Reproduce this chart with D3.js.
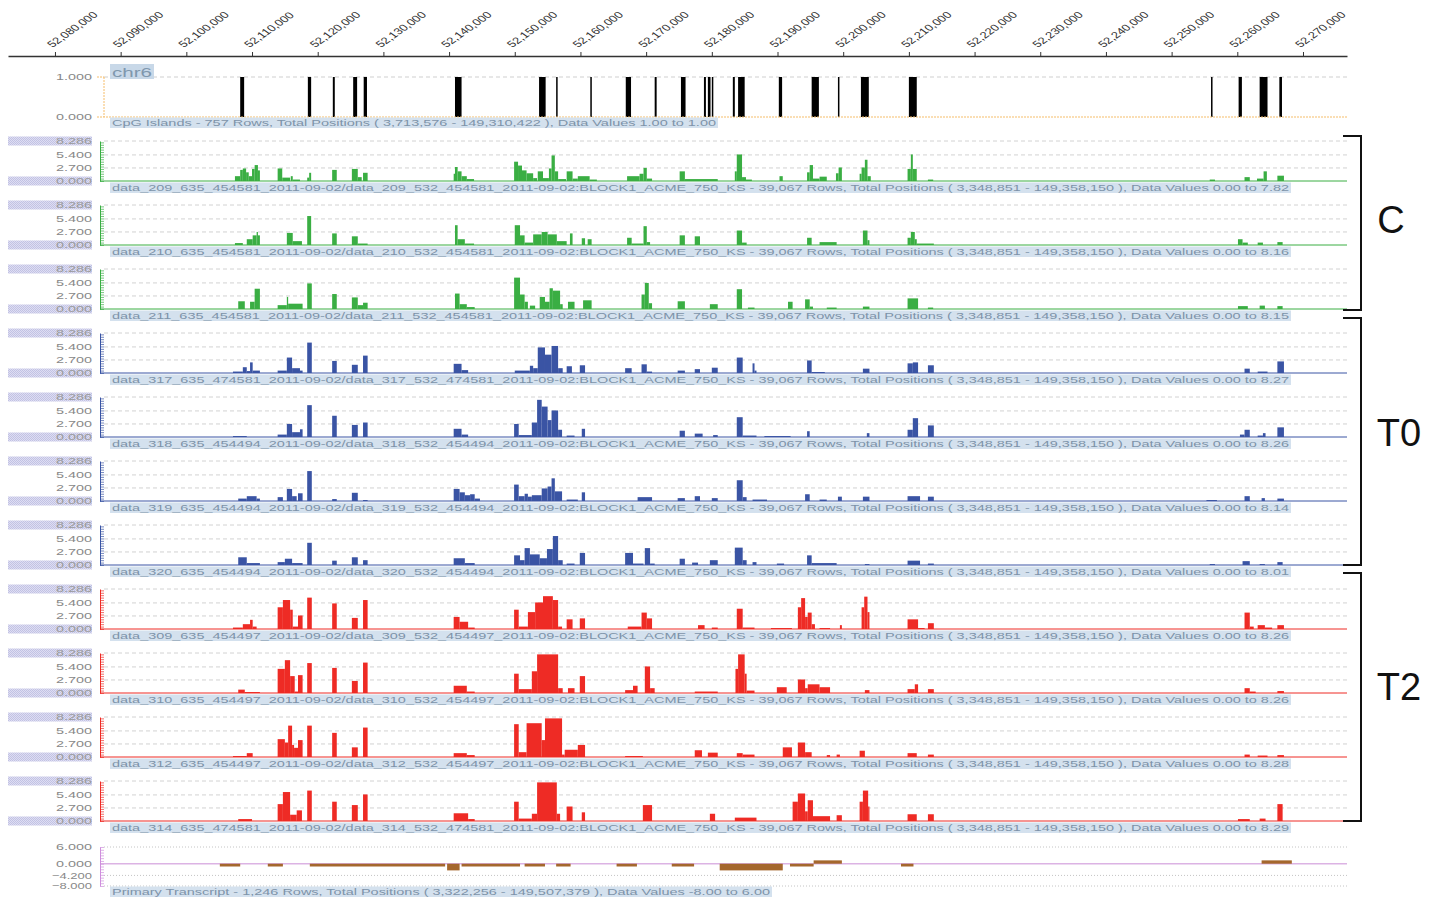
<!DOCTYPE html>
<html>
<head>
<meta charset="utf-8">
<script src="https://cdn.jsdelivr.net/npm/d3@7"></script>
<style>
  body { margin: 0; background: #fff; }
  text { font-family: "Liberation Sans", Arial, sans-serif; }
</style>
</head>
<body>
<div id="chart"></div>
<script>
// positions below are kb past 52,000,000 on chr6
var chromStart = 52000000;

var axisTicks = [52080000, 52090000, 52100000, 52110000, 52120000, 52130000, 52140000,
  52150000, 52160000, 52170000, 52180000, 52190000, 52200000, 52210000, 52220000,
  52230000, 52240000, 52250000, 52260000, 52270000];

var signalTicks = [0, 2.7, 5.4, 8.286];
var transcriptTicks = [6, 0, -4.2, -8];

// CpG islands [start, end]
var cpgIslands = [[108.2,108.8],[118.5,119.0],[122.3,122.6],[125.4,126.0],[127.0,127.5],
  [140.9,141.9],[153.7,154.7],[156.3,156.5],[161.5,161.7],[166.9,167.7],[171.3,171.6],
  [175.3,176.0],[178.8,179.1],[179.4,179.8],[180.0,180.2],[183.2,183.5],[184.0,185.0],
  [190.2,190.7],[195.2,196.3],[199.2,199.4],[202.7,203.9],[210.0,211.2],
  [256.0,256.2],[260.2,260.7],[263.4,264.6],[266.4,266.8]];

// signal bars [start, end, value]
var c209 = [[107.4,108.2,1.0],[108.2,108.6,2.3],[108.6,109.1,2.6],[109.1,109.5,1.8],[109.5,110.0,1.0],
  [110.0,110.4,2.5],[110.4,110.9,3.3],[110.9,111.2,2.2],[113.9,114.6,2.6],[114.6,115.8,0.7],
  [115.9,116.2,1.0],[116.2,117.3,0.3],[118.4,118.7,0.7],[118.7,119.0,1.7],[122.2,122.9,2.3],
  [125.2,126.1,2.5],[126.1,126.7,0.8],[126.9,127.6,1.7],[140.7,140.9,1.5],[140.9,141.3,2.9],
  [141.3,141.9,2.0],[141.9,142.7,1.0],[142.7,143.8,0.4],[149.9,150.5,4.0],[150.5,151.1,3.2],
  [151.1,151.8,2.2],[151.8,152.8,1.6],[152.8,153.4,0.6],[153.5,154.3,2.0],[154.3,155.2,0.6],
  [155.2,155.6,2.6],[155.6,156.1,5.3],[156.1,156.6,2.0],[156.6,157.8,0.4],[157.9,158.8,2.0],
  [158.8,159.6,0.5],[159.6,161.4,1.0],[161.4,162.5,0.3],[167.1,169.0,1.0],[169.0,169.6,1.5],
  [169.6,170.1,2.7],[170.1,170.9,0.5],[175.1,175.9,2.0],[175.9,180.9,0.4],[183.5,183.8,2.0],
  [183.8,184.6,5.5],[184.6,185.2,0.8],[185.2,186.1,0.3],[190.3,190.8,1.0],[194.5,194.9,1.8],
  [194.9,195.4,3.3],[195.4,196.4,0.5],[196.4,197.5,0.9],[198.9,199.3,1.6],[199.3,199.8,2.8],
  [202.5,202.8,1.5],[202.8,203.3,2.8],[203.3,203.7,4.4],[203.7,204.2,1.0],[209.8,210.3,2.5],
  [210.3,210.6,5.5],[210.6,211.2,2.5],[212.9,213.7,0.3],[255.8,256.6,0.3],[261.1,261.9,0.8],
  [263.0,264.0,0.5],[264.0,264.5,2.0],[266.1,267.1,1.1]];

var c210 = [[107.4,108.6,0.4],[109.2,110.1,1.2],[110.1,110.7,2.0],[110.7,110.9,2.7],[110.9,111.2,2.0],
  [115.3,116.2,2.5],[116.2,117.6,0.8],[118.4,119.0,6.0],[122.2,122.9,2.4],[125.2,126.1,1.8],
  [126.1,127.6,0.3],[140.9,141.3,4.1],[141.3,142.4,1.2],[142.4,143.8,0.3],[150.0,150.8,4.1],
  [150.8,151.5,2.0],[151.5,152.8,0.5],[152.8,154.1,2.2],[154.1,155.0,2.7],[155.0,156.4,2.2],
  [156.4,157.9,0.8],[158.4,158.8,2.4],[160.2,160.7,1.4],[161.1,161.7,1.2],[167.1,167.8,1.5],
  [167.8,169.6,0.3],[169.6,170.1,3.9],[170.1,170.6,0.6],[175.1,175.9,2.0],[177.4,178.2,1.8],
  [183.8,184.6,3.0],[184.6,185.3,0.5],[194.5,195.2,1.5],[196.4,199.0,0.6],[203.0,203.7,3.0],
  [203.7,204.0,1.0],[209.8,210.3,1.5],[210.3,210.9,2.7],[210.9,211.2,1.2],[211.2,213.8,0.3],
  [260.1,260.8,1.2],[260.8,261.6,0.5],[263.1,263.9,0.5],[266.1,266.9,0.6]];

var c211 = [[107.9,108.9,1.6],[109.7,110.4,1.5],[110.4,111.2,4.2],[113.9,115.3,0.8],[115.3,115.5,2.5],
  [115.5,117.7,1.1],[118.4,119.1,5.3],[122.2,122.9,3.1],[125.2,126.1,2.4],[126.1,126.9,0.8],
  [126.9,127.6,1.3],[140.9,141.6,3.2],[141.6,142.7,1.0],[142.7,143.9,0.4],[149.9,150.8,6.5],
  [150.8,151.5,3.0],[151.5,152.0,1.5],[152.3,153.1,0.7],[153.8,154.6,2.5],[154.6,155.3,1.5],
  [155.3,155.8,4.3],[155.8,156.9,3.8],[156.9,157.3,1.0],[158.1,159.1,1.5],[160.4,161.7,1.8],
  [169.3,169.8,3.0],[169.8,170.4,5.4],[170.4,170.9,1.2],[174.8,175.9,1.6],[179.7,180.9,1.0],
  [183.8,184.6,4.1],[185.5,186.5,0.3],[191.6,192.3,1.5],[194.2,194.9,2.0],[194.9,195.4,0.5],
  [197.5,199.0,0.3],[203.0,204.0,0.5],[209.8,211.4,2.2],[212.9,213.7,0.3],[260.1,261.6,0.6],
  [263.4,264.2,0.7],[266.1,266.9,0.6]];

var t317 = [[107.1,108.6,0.3],[108.6,109.2,1.2],[109.2,109.7,0.4],[109.7,110.1,2.2],[110.1,111.2,0.5],
  [113.9,115.3,0.5],[115.3,116.1,3.2],[116.1,117.3,1.0],[117.3,117.7,0.5],[118.4,119.1,6.3],
  [122.2,122.9,2.5],[125.2,126.1,1.7],[126.9,127.6,3.6],[140.7,141.9,1.9],[141.9,142.9,0.6],
  [150.0,152.3,0.5],[152.3,152.8,1.5],[152.8,153.5,1.0],[153.5,154.6,5.3],[154.6,155.6,3.8],
  [155.6,156.6,5.6],[156.6,157.3,1.0],[157.9,158.7,1.4],[159.9,160.7,1.6],[166.8,167.8,1.0],
  [169.3,170.1,1.8],[170.1,170.9,0.3],[174.8,175.9,0.5],[177.4,178.2,0.8],[180.0,180.9,1.1],
  [183.8,184.7,3.2],[186.2,186.5,2.0],[186.5,186.8,0.5],[194.5,195.2,2.6],[195.2,197.2,0.2],
  [203.0,204.0,0.9],[209.8,210.6,2.0],[210.6,211.4,2.2],[212.9,213.8,1.6],[261.1,261.9,0.9],
  [263.1,264.6,0.3],[266.1,267.1,2.4]];

var t318 = [[107.1,109.2,0.2],[113.9,115.3,0.5],[115.3,116.1,2.7],[116.1,117.3,1.0],[117.3,117.7,1.6],
  [118.4,119.1,6.6],[122.2,122.9,4.4],[125.2,126.1,2.5],[126.9,127.6,3.0],[140.7,141.9,1.7],
  [141.9,142.9,0.5],[149.9,150.6,2.7],[150.6,152.6,0.4],[152.6,153.4,3.0],[153.4,154.1,7.7],
  [154.1,155.0,6.3],[155.0,155.6,3.5],[155.6,156.6,5.5],[156.6,157.2,1.5],[157.9,159.1,0.3],
  [160.2,160.7,1.7],[175.1,175.9,1.3],[177.4,178.6,0.7],[180.2,180.9,0.4],[183.8,184.7,4.1],
  [184.7,186.8,0.3],[188.0,192.0,0.2],[194.5,194.9,1.2],[203.6,204.0,0.8],[209.8,210.6,1.5],
  [210.6,211.4,3.9],[212.9,213.8,2.4],[260.4,261.1,0.5],[261.1,261.9,1.5],[263.1,263.9,0.3],
  [263.9,264.3,0.8],[266.1,267.1,2.0]];

var t319 = [[107.9,109.2,0.5],[109.2,110.7,1.0],[110.7,111.2,0.5],[113.9,114.7,0.8],[115.3,116.1,2.5],
  [116.1,116.8,1.0],[117.0,117.7,1.6],[118.4,119.1,6.2],[122.2,122.9,0.4],[125.2,126.1,1.7],
  [126.9,127.6,0.2],[140.7,141.6,2.5],[141.6,142.4,1.8],[142.4,143.2,1.2],[143.2,143.9,1.4],
  [143.9,144.7,0.5],[149.9,150.6,3.4],[150.6,151.5,1.0],[151.5,152.0,1.5],[152.0,152.6,0.9],
  [152.6,154.1,1.2],[154.1,155.0,2.6],[155.0,155.6,3.0],[155.6,156.1,4.7],[156.1,157.2,2.0],
  [157.9,159.6,0.3],[160.2,160.7,1.8],[168.7,170.9,0.8],[174.8,175.9,0.6],[177.4,178.2,1.0],
  [180.0,180.9,0.6],[183.8,184.7,4.3],[184.7,185.3,0.8],[186.2,188.4,0.3],[194.2,194.9,1.4],
  [196.4,197.5,0.3],[199.2,199.8,0.9],[203.0,204.0,0.9],[209.8,211.7,1.0],[212.9,213.8,0.9],
  [255.3,256.9,0.2],[261.1,261.9,1.0],[263.7,264.2,0.6],[266.1,267.1,0.5]];

var t320 = [[107.9,109.2,1.6],[109.2,111.2,0.4],[113.9,115.0,0.6],[115.0,116.1,1.3],[116.1,117.7,0.4],
  [118.4,119.1,4.6],[122.2,122.9,0.9],[125.2,126.1,1.6],[126.9,127.6,1.0],[140.7,142.4,1.4],
  [142.4,143.9,0.4],[149.9,150.8,2.0],[150.8,151.5,1.0],[151.5,152.3,3.5],[152.3,153.8,2.2],
  [153.8,154.9,1.4],[154.9,155.8,3.3],[155.8,156.6,6.0],[156.6,157.3,1.0],[157.9,159.1,0.3],
  [159.9,160.7,2.5],[166.8,168.0,2.5],[168.0,169.6,0.3],[169.8,170.6,3.5],[170.6,171.3,0.3],
  [175.1,175.9,1.3],[177.0,177.9,0.5],[179.7,180.9,1.0],[183.5,184.7,3.6],[184.7,185.3,1.0],
  [186.2,186.8,0.6],[189.9,191.0,0.3],[194.5,195.2,2.0],[195.2,199.0,0.4],[203.3,204.0,0.2],
  [209.8,211.7,0.9],[212.9,213.8,0.3],[255.8,256.6,0.2],[260.8,261.9,0.8],[263.4,264.2,0.2],
  [266.1,266.9,0.6]];

var t309 = [[107.1,108.6,0.3],[108.6,109.7,1.0],[109.7,110.1,1.9],[110.1,110.7,0.5],[113.9,114.7,4.5],
  [114.7,115.8,6.0],[115.8,116.2,4.0],[116.2,117.0,0.5],[117.0,117.7,2.8],[118.4,119.1,6.5],
  [122.2,122.9,5.3],[125.2,126.1,2.3],[126.9,127.6,6.0],[140.7,141.6,2.5],[141.6,142.9,1.5],
  [142.9,143.9,0.3],[149.9,150.6,4.0],[150.6,152.0,0.5],[152.0,153.1,3.5],[153.1,154.3,5.5],
  [154.3,155.8,6.8],[155.8,156.6,6.0],[156.6,157.2,0.5],[157.9,158.8,2.0],[159.9,160.7,2.2],
  [167.2,169.3,0.5],[169.3,170.1,3.4],[170.1,170.9,2.2],[177.9,178.9,0.8],[180.0,180.9,0.3],
  [183.8,184.7,4.2],[184.7,186.5,0.3],[189.0,192.2,0.2],[193.1,193.6,4.5],[193.6,194.2,6.4],
  [194.2,194.6,2.5],[194.6,195.2,3.4],[195.2,195.7,1.0],[196.4,198.0,0.2],[199.5,199.8,0.8],
  [202.8,203.2,4.5],[203.2,203.7,6.7],[203.7,204.0,3.5],[209.8,211.4,2.0],[211.4,212.4,0.2],
  [212.9,213.8,1.2],[261.1,261.9,3.4],[261.9,262.5,0.5],[263.1,264.2,0.8],[264.2,265.3,0.3],
  [266.1,267.1,0.8]];

var t310 = [[107.9,108.9,0.7],[108.9,111.2,0.2],[113.9,115.0,5.0],[115.0,115.8,6.8],[115.8,116.5,3.5],
  [116.5,117.0,0.3],[117.0,117.7,3.7],[118.4,119.1,6.2],[122.2,122.9,5.2],[125.2,126.1,2.5],
  [126.9,127.6,6.3],[140.7,142.7,1.5],[142.7,143.9,0.3],[149.9,150.6,4.0],[150.6,152.6,0.8],
  [152.6,153.4,4.5],[153.4,156.6,8.0],[156.6,157.3,1.0],[158.1,159.1,1.0],[159.9,160.7,3.5],
  [166.8,168.0,0.6],[168.0,168.7,1.5],[169.8,170.6,5.5],[170.6,171.3,1.0],[177.4,180.9,0.3],
  [183.6,184.0,5.0],[184.0,185.0,8.0],[185.0,185.3,4.0],[185.3,186.5,0.5],[189.9,191.4,1.2],
  [193.1,194.2,2.8],[194.2,194.6,1.0],[194.6,196.4,1.8],[196.4,198.0,1.2],[203.3,204.0,0.6],
  [209.8,210.9,0.8],[210.9,211.4,1.8],[212.9,213.8,0.8],[261.1,261.9,1.0],[261.9,262.8,0.3],
  [266.1,267.1,0.4]];

var t312 = [[107.1,109.2,0.2],[109.2,110.1,0.8],[113.9,115.0,3.7],[115.0,115.5,3.0],[115.5,116.1,6.5],
  [116.1,116.4,2.5],[116.4,117.0,1.9],[117.0,117.7,3.5],[118.4,119.1,6.5],[122.2,122.9,5.0],
  [125.2,126.1,2.0],[126.9,127.6,6.1],[140.7,142.7,0.8],[142.7,143.9,0.4],[149.9,150.6,6.8],
  [150.6,151.8,1.0],[151.8,154.1,7.0],[154.1,154.6,3.5],[154.6,157.2,8.0],[157.2,157.6,0.5],
  [157.6,159.6,1.5],[159.6,160.7,2.5],[166.8,169.5,0.2],[177.4,178.5,1.4],[179.4,180.9,0.9],
  [183.8,184.7,0.8],[184.7,186.5,0.5],[190.8,192.2,2.0],[193.1,194.2,3.0],[194.2,195.2,1.0],
  [197.5,198.0,0.4],[199.0,199.5,0.5],[202.5,203.3,1.3],[209.8,211.2,0.8],[212.9,213.8,0.5],
  [261.1,261.9,0.5],[263.1,264.6,0.3],[266.1,267.1,0.4]];

var t314 = [[107.9,110.0,0.4],[113.9,114.7,3.5],[114.7,115.8,6.0],[115.8,116.8,1.3],[116.8,117.6,2.2],
  [118.4,119.1,6.3],[122.2,122.9,4.0],[125.2,126.1,3.3],[126.9,127.6,5.5],[140.7,142.9,1.6],
  [142.9,143.9,0.4],[149.9,150.6,4.0],[150.6,152.6,0.5],[152.6,153.4,1.5],[153.4,156.4,8.0],
  [156.4,156.9,1.5],[157.9,158.8,3.0],[160.2,160.7,1.8],[169.5,170.9,3.3],[179.7,180.5,1.5],
  [183.5,186.8,0.7],[192.3,193.1,4.0],[193.1,194.2,5.7],[194.2,194.6,2.0],[194.6,195.4,4.3],
  [195.4,198.0,1.0],[199.0,199.8,1.2],[202.5,203.0,4.0],[203.0,203.8,6.3],[203.8,204.0,3.0],
  [209.8,211.2,1.4],[212.9,213.8,1.4],[260.1,261.9,0.4],[263.4,264.3,0.5],[266.1,266.9,3.5]];

// primary transcript blocks [start, end, value]
var transcripts = [[105.1,108.2,-1],[112.4,114.7,-1],[118.8,139.4,-1],[139.7,141.6,-2.4],
  [141.9,150.8,-1],[151.5,154.6,-1],[156.3,158.5,-1],[165.5,168.6,-1],[173.9,177.3,-1],
  [181.2,190.8,-2.4],[191.9,195.5,-1],[195.5,199.8,1.2],[208.8,210.7,-1],[263.7,268.3,1.2]];

var trackData = [c209, c210, c211, t317, t318, t319, t320, t309, t310, t312, t314];
var trackIds = [["209", "454581"], ["210", "454581"], ["211", "454581"], ["317", "474581"],
  ["318", "454494"], ["319", "454494"], ["320", "454494"], ["309", "454497"],
  ["310", "454497"], ["312", "454497"], ["314", "474581"]];
var trackMax = ["7.82", "8.16", "8.15", "8.27", "8.26", "8.14", "8.01", "8.26", "8.26", "8.28", "8.29"];
var trackGroup = ["C", "C", "C", "T0", "T0", "T0", "T0", "T2", "T2", "T2", "T2"];
var groupNames = ["C", "T0", "T2"];

var groupColor = { C: "#3aae43", T0: "#3a54a4", T2: "#ee2b25" };

var svg = d3.select("#chart").append("svg")
  .attr("width", 1440)
  .attr("height", 901);

svg.append("rect").attr("width", 1440).attr("height", 901).attr("fill", "#fff");

// checkered label background
var pat = svg.append("defs").append("pattern")
  .attr("id", "chk").attr("width", 2).attr("height", 2)
  .attr("patternUnits", "userSpaceOnUse");
pat.append("rect").attr("width", 2).attr("height", 2).attr("fill", "#dedef2");
pat.append("rect").attr("width", 1).attr("height", 1).attr("fill", "#c2c2e4");
pat.append("rect").attr("x", 1).attr("y", 1).attr("width", 1).attr("height", 1).attr("fill", "#c2c2e4");

var x = d3.scaleLinear().domain([72.85, 276.7]).range([8, 1347]);
var xbp = d3.scaleLinear()
  .domain(x.domain().map(d => chromStart + d * 1000))
  .range(x.range());

// top ruler
var topAxis = svg.append("g")
  .attr("transform", "translate(0,56)")
  .call(d3.axisTop(xbp).tickValues(axisTicks).tickSize(4).tickSizeOuter(0)
    .tickFormat(d3.format(",")));
topAxis.select(".domain").attr("stroke", "#333").attr("stroke-width", 1.5);
topAxis.selectAll(".tick line").attr("stroke", "#333");
topAxis.selectAll(".tick text")
  .attr("x", 0).attr("y", 0).attr("dy", 0)
  .attr("text-anchor", "start")
  .attr("fill", "#333")
  .style("font-size", "9.2px")
  .attr("transform", "translate(-3,-8) scale(1.42,1) rotate(-45)");

function caption(y, txt, len) {
  svg.append("rect")
    .attr("x", 110).attr("y", y - 8.5)
    .attr("width", len + 4).attr("height", 10.5)
    .attr("fill", "#d4e1ee");
  svg.append("text")
    .attr("x", 112).attr("y", y)
    .attr("textLength", len).attr("lengthAdjust", "spacingAndGlyphs")
    .attr("fill", "#7d93a9")
    .style("font-size", "9.5px")
    .text(txt);
}

function yLabel(yPos, txt, boxed) {
  if (boxed) {
    svg.append("rect")
      .attr("x", 8).attr("y", yPos - 4.5)
      .attr("width", 84).attr("height", 9)
      .attr("fill", "url(#chk)");
  }
  svg.append("text")
    .attr("x", 92).attr("y", yPos + 3.3)
    .attr("text-anchor", "end")
    .attr("textLength", txt.length > 5 ? 40 : 36)
    .attr("lengthAdjust", "spacingAndGlyphs")
    .attr("fill", boxed ? "#9a9a9a" : "#888")
    .style("font-size", "9.5px")
    .text(txt);
}

// CpG island track
var yCpg = d3.scaleLinear().domain([0, 1]).range([117, 77]);
svg.append("line")
  .attr("x1", 104).attr("x2", 1347).attr("y1", yCpg(1)).attr("y2", yCpg(1))
  .attr("stroke", "#cfcfcf").attr("stroke-dasharray", "4,3");
svg.append("g").selectAll("rect")
  .data(cpgIslands)
  .enter().append("rect")
  .attr("x", d => x(d[0]))
  .attr("width", d => Math.max(1.5, x(d[1]) - x(d[0])))
  .attr("y", yCpg(1))
  .attr("height", yCpg(0) - yCpg(1))
  .attr("fill", "#000");
svg.append("line")
  .attr("x1", 97).attr("x2", 1347).attr("y1", yCpg(0)).attr("y2", yCpg(0))
  .attr("stroke", "#f6bd6a").attr("stroke-width", 1.2).attr("stroke-dasharray", "2,1");
svg.append("line")
  .attr("x1", 104).attr("x2", 104).attr("y1", yCpg(1)).attr("y2", yCpg(0))
  .attr("stroke", "#f6bd6a").attr("stroke-dasharray", "2,1");
svg.append("line")
  .attr("x1", 97).attr("x2", 104).attr("y1", yCpg(1)).attr("y2", yCpg(1))
  .attr("stroke", "#f6bd6a").attr("stroke-dasharray", "2,1");
yLabel(yCpg(1), "1.000", false);
yLabel(yCpg(0), "0.000", false);

svg.append("rect").attr("x", 110).attr("y", 64).attr("width", 44).attr("height", 15)
  .attr("fill", "#c8d8e8");
svg.append("text").attr("x", 112).attr("y", 76.5)
  .attr("textLength", 40).attr("lengthAdjust", "spacingAndGlyphs")
  .attr("fill", "#7f97ad").style("font-size", "13.5px").text("chr6");

caption(126, "CpG Islands - 757 Rows, Total Positions ( 3,713,576 - 149,310,422 ), Data Values 1.00 to 1.00", 604);

// signal tracks
trackData.forEach(function(bars, i) {
  var top = 141 + 64 * i;
  var base = top + 40;
  var color = groupColor[trackGroup[i]];
  var y = d3.scaleLinear().domain([0, 8.286]).range([base, top]);

  svg.append("g").selectAll("line")
    .data(signalTicks.slice(1))
    .enter().append("line")
    .attr("x1", 104).attr("x2", 1347)
    .attr("y1", d => y(d)).attr("y2", d => y(d))
    .attr("stroke", "#d2d2d2").attr("stroke-dasharray", "4,3");

  svg.append("g").selectAll("rect")
    .data(bars)
    .enter().append("rect")
    .attr("x", d => x(d[0]))
    .attr("width", d => x(d[1]) - x(d[0]))
    .attr("y", d => y(d[2]))
    .attr("height", d => base - y(d[2]))
    .attr("fill", color);

  svg.append("line")
    .attr("x1", 100).attr("x2", 1347).attr("y1", base).attr("y2", base)
    .attr("stroke", color).attr("stroke-width", 1);

  var ax = svg.append("g")
    .attr("transform", "translate(100,0)")
    .call(d3.axisRight(y).ticks(16).tickSize(4).tickFormat("").tickSizeOuter(0));
  ax.select(".domain").attr("stroke", color);
  ax.selectAll(".tick line").attr("stroke", color).attr("stroke-width", 0.7);

  signalTicks.forEach(function(t) {
    yLabel(y(t), d3.format(".3f")(t), t === 0 || t === 8.286);
  });

  var id = trackIds[i];
  caption(base + 10, "data_" + id[0] + "_635_" + id[1] + "_2011-09-02/data_" + id[0] + "_532_" + id[1] +
    "_2011-09-02:BLOCK1_ACME_750_KS - 39,067 Rows, Total Positions ( 3,348,851 - 149,358,150 ), Data Values 0.00 to " +
    trackMax[i], 1177);
});

// primary transcript track
var yTr = d3.scaleLinear().domain([-8, 6]).range([886, 847]);
svg.append("g").selectAll("line")
  .data(transcriptTicks.filter(d => d !== 0))
  .enter().append("line")
  .attr("x1", 104).attr("x2", 1347)
  .attr("y1", d => yTr(d)).attr("y2", d => yTr(d))
  .attr("stroke", "#c4c4c4").attr("stroke-dasharray", "1,2");
svg.append("line")
  .attr("x1", 100).attr("x2", 1347).attr("y1", yTr(0)).attr("y2", yTr(0))
  .attr("stroke", "#dcb3e4").attr("stroke-width", 1.5);
svg.append("g").selectAll("rect")
  .data(transcripts)
  .enter().append("rect")
  .attr("x", d => x(d[0]))
  .attr("width", d => x(d[1]) - x(d[0]))
  .attr("y", d => yTr(Math.max(0, d[2])))
  .attr("height", d => Math.abs(yTr(d[2]) - yTr(0)))
  .attr("fill", "#a5672d");
var axT = svg.append("g")
  .attr("transform", "translate(100,0)")
  .call(d3.axisRight(yTr).ticks(14).tickSize(4).tickFormat("").tickSizeOuter(0));
axT.select(".domain").attr("stroke", "#cf8fdc");
axT.selectAll(".tick line").attr("stroke", "#cf8fdc").attr("stroke-width", 0.7);
transcriptTicks.forEach(function(t) {
  yLabel(yTr(t), d3.format(".3f")(t), false);
});
caption(895, "Primary Transcript - 1,246 Rows, Total Positions ( 3,322,256 - 149,507,379 ), Data Values -8.00 to 6.00", 658);

// group brackets
var brackets = [[136, 310, 233, 1391], [318, 565, 446, 1399], [573, 821, 700, 1399]];
groupNames.forEach(function(g, k) {
  var b = brackets[k];
  svg.append("path")
    .attr("d", "M1343," + b[0] + "H1361V" + b[1] + "H1343")
    .attr("fill", "none").attr("stroke", "#111").attr("stroke-width", 2);
  svg.append("text")
    .attr("x", b[3]).attr("y", b[2])
    .attr("text-anchor", "middle")
    .attr("fill", "#111")
    .style("font-size", "38px")
    .text(g);
});
</script>
</body>
</html>
